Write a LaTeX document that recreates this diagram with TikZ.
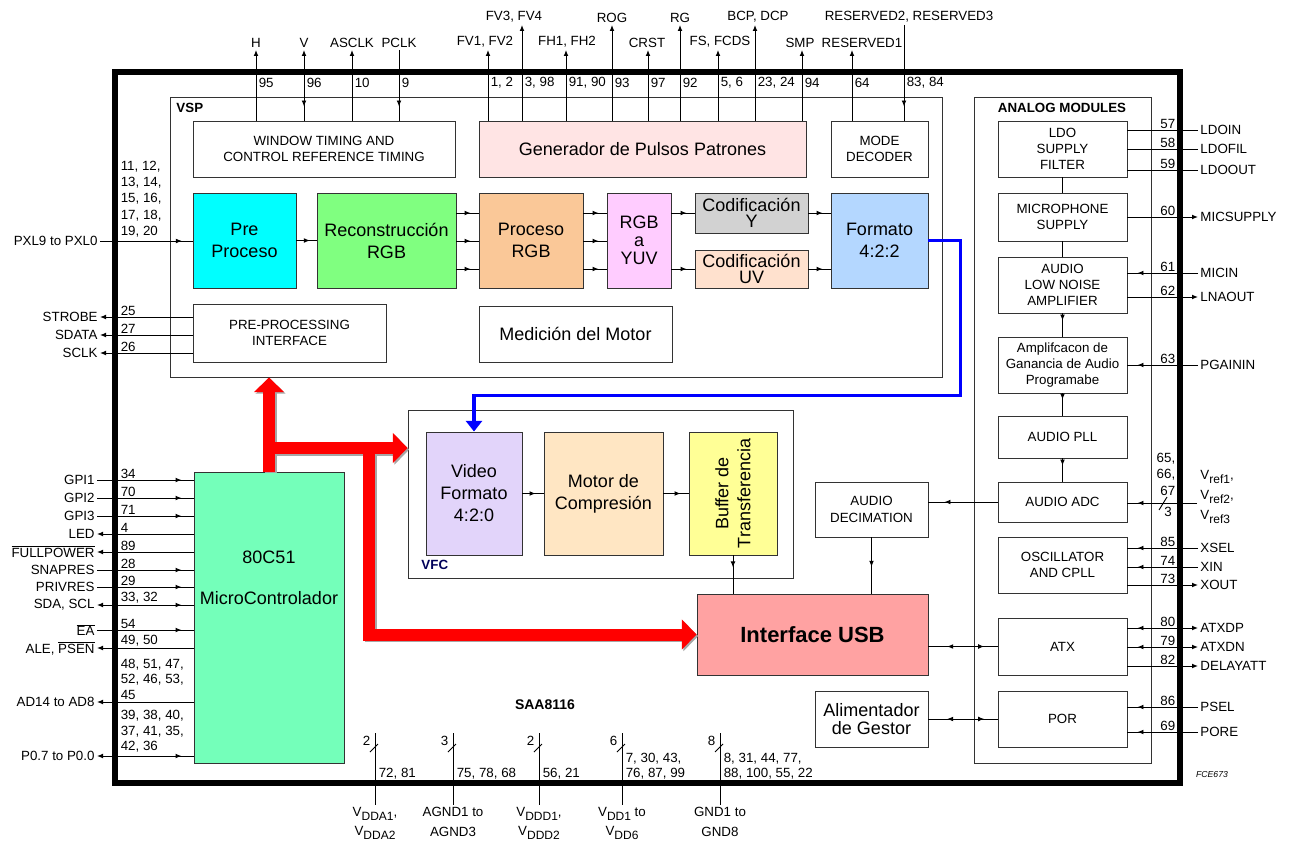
\documentclass[tikz,border=0pt]{standalone}
\usepackage{fontspec}
\setmainfont{Liberation Sans}
\usetikzlibrary{arrows.meta,positioning,decorations.markings}

\definecolor{prefill}{RGB}{0,255,255}
\definecolor{recfill}{RGB}{128,255,128}
\definecolor{prgbfill}{RGB}{250,200,152}
\definecolor{yuvfill}{RGB}{255,204,255}
\definecolor{codyfill}{RGB}{210,210,210}
\definecolor{coduvfill}{RGB}{255,225,206}
\definecolor{fmtfill}{RGB}{180,215,255}
\definecolor{genfill}{RGB}{255,228,228}
\definecolor{vidfill}{RGB}{226,212,250}
\definecolor{motfill}{RGB}{255,230,195}
\definecolor{buffill}{RGB}{255,255,150}
\definecolor{usbfill}{RGB}{255,162,162}
\definecolor{mcfill}{RGB}{116,255,186}

\newcommand{\ovl}[1]{$\overline{\mbox{#1}}$}
\newcommand{\lsub}[1]{\raisebox{-0.5ex}{\fontsize{9}{10}\selectfont #1}}

\begin{document}
\begin{tikzpicture}[x=0.75pt,y=-0.75pt,line width=0.7pt,
  >={Latex[length=4.5pt,width=3.6pt]}]
  \tikzset{
    rect/.style 2 args={minimum width=#1*0.75pt, minimum height=#2*0.75pt},
    frame/.style={draw=black!80, inner sep=0pt},
    blk/.style={draw=black!80, inner sep=0pt, align=center, font=\fontsize{10}{12.2}\selectfont},
    big/.style={blk, font=\fontsize{13.5}{16.5}\selectfont},
    pin/.style={inner sep=1.5pt, align=center, font=\fontsize{10}{12}\selectfont},
    num/.style={inner sep=1pt, align=left, font=\fontsize{10}{12}\selectfont},
    ttl/.style={inner sep=0pt, font=\bfseries\fontsize{10}{12}\selectfont},
    markat/.style={postaction={decorate, decoration={markings, mark=at position #1 with {\arrow{>}}}}},
    markback/.style={postaction={decorate, decoration={markings, mark=at position #1 with {\arrowreversed{>}}}}},
    redbus/.style={red, line width=9pt, -{Triangle[length=11pt,width=22pt]}},
    redshade/.style={black!35, line width=9pt, -{Triangle[length=11pt,width=22pt]}},
    bluebus/.style={blue, line width=2.3pt, -{Triangle[length=8pt,width=12pt]}}
  }
  \useasboundingbox (0,0) rectangle (1292,842);

  % chip outline and frames
  \draw[line width=4.5pt] (115,72) rectangle (1180,783);
  \node[frame, rect={772}{280}] (vsp) at (556,237) {};
  \node[ttl, anchor=west] (vsplbl) at (176,108) {VSP};
  \node[frame, rect={385}{168}] (vfc) at (600.5,494) {};
  \node[ttl, anchor=west, text=blue!35!black] (vfclbl) at (421,565) {VFC};
  \node[frame, rect={177}{666}] (anm) at (1062.5,430) {};
  \node[ttl, anchor=north] (anmlbl) at (1062,103) {ANALOG MODULES};
  \node[ttl, font=\bfseries\fontsize{10.5}{12}\selectfont] (chip) at (545,705) {SAA8116};
  \node[font=\itshape\fontsize{6.5}{8}\selectfont] (fce) at (1212,775) {FCE673};

  % VSP blocks
  \node[blk, rect={262}{56}] (win) at (324,149) {WINDOW TIMING AND\\CONTROL REFERENCE TIMING};
  \node[big, fill=genfill, rect={327}{56}] (gen) at (642.5,149) {Generador de Pulsos Patrones};
  \node[blk, rect={97}{56}] (mode) at (879.5,149) {MODE\\DECODER};
  \node[big, fill=prefill, rect={103}{95}] (pre) at (244.5,240.5) {Pre\\Proceso};
  \node[big, fill=recfill, rect={139}{95}] (rec) at (386.5,240.5) {Reconstrucción\\RGB};
  \node[big, fill=prgbfill, rect={104}{95}] (prgb) at (531,240.5) {Proceso\\RGB};
  \node[big, fill=yuvfill, rect={64}{95}] (yuv) at (639,240.5) {RGB\\[-3pt]a\\[-3pt]YUV};
  \node[big, fill=codyfill, rect={113}{40}] (cody) at (751.5,213) {Codificación\\[-4pt]Y};
  \node[big, fill=coduvfill, rect={113}{38}] (coduv) at (751.5,269) {Codificación\\[-4pt]UV};
  \node[big, fill=fmtfill, rect={97}{95}] (fmt) at (879.5,240.5) {Formato\\4:2:2};
  \node[blk, rect={193}{58}] (ppi) at (289.5,333) {PRE-PROCESSING\\INTERFACE};
  \node[big, rect={193}{56}] (med) at (575.5,334) {Medición del Motor};

  % VFC blocks
  \node[big, fill=vidfill, rect={96}{123}] (vid) at (474,493.5) {Video\\Formato\\4:2:0};
  \node[big, fill=motfill, rect={119}{123}] (mot) at (603.5,493.5) {Motor de\\Compresión};
  \node[big, fill=buffill, rect={88}{123}] (buf) at (733,493.5) {};
  \node[rotate=90, align=center, font=\fontsize{13.5}{16.5}\selectfont] (buftxt) at (buf.center) {Buffer de\\Transferencia};

  % lower middle blocks
  \node[blk, fill=usbfill, rect={231}{81}, font=\bfseries\fontsize{16.5}{19}\selectfont] (usb) at (812.5,634.5) {Interface USB};
  \node[blk, rect={113}{55}] (adec) at (871.5,509.5) {AUDIO\\DECIMATION};
  \node[big, rect={113}{56}] (alim) at (871.5,719) {Alimentador\\[-3pt]de Gestor};
  \node[blk, fill=mcfill, rect={150}{291}] (mc) at (269,617.5) {};
  \node[align=center, font=\fontsize{13.5}{16.5}\selectfont] (mctxt) at (269,578) {80C51\\[14pt]MicroControlador};

  % analog modules
  \node[blk, rect={129}{56}] (ldo) at (1062.5,149) {LDO\\SUPPLY\\FILTER};
  \node[blk, rect={129}{48}] (mic) at (1062.5,217) {MICROPHONE\\SUPPLY};
  \node[blk, rect={129}{56}] (lna) at (1062.5,285) {AUDIO\\LOW NOISE\\AMPLIFIER};
  \node[blk, rect={129}{56}] (pga) at (1062.5,365) {Amplifcacon de\\Ganancia de Audio\\Programabe};
  \node[blk, rect={129}{42}] (pll) at (1062.5,437) {AUDIO PLL};
  \node[blk, rect={129}{40}] (adc) at (1062.5,502) {AUDIO ADC};
  \node[blk, rect={129}{56}] (osc) at (1062.5,565) {OSCILLATOR\\AND CPLL};
  \node[blk, rect={129}{57}] (atx) at (1062.5,646.5) {ATX};
  \node[blk, rect={129}{56}] (por) at (1062.5,719) {POR};

  % internal connections
  \draw[markat=-5pt] (pre) -- (rec);
  \foreach \yy in {213,241,269} {
    \draw[markat=-6pt] (rec.east |- 0,\yy) -- (prgb.west |- 0,\yy);
    \draw[markat=-6pt] (prgb.east |- 0,\yy) -- (yuv.west |- 0,\yy);
  }
  \draw[markat=-6pt] (yuv.east |- cody.west) -- (cody.west);
  \draw[markat=-6pt] (yuv.east |- coduv.west) -- (coduv.west);
  \draw[markat=-6pt] (cody.east) -- (cody.east -| fmt.west);
  \draw[markat=-6pt] (coduv.east) -- (coduv.east -| fmt.west);
  \draw[markat=-6pt] (vid) -- (mot);
  \draw[markat=-6pt] (mot) -- (buf);
  \draw[markat=9pt] (buf.south) -- (buf.south |- usb.north);
  \draw[markat=22pt] (adec.south) -- (adec.south |- usb.north);
  \draw (ldo) -- (mic);
  \draw (mic) -- (lna);
  \draw[markat=-12pt] (lna) -- (pga);
  \draw[markat=-12pt] (pga) -- (pll);
  \draw[markat=-12pt] (pll) -- (adc);
  \draw[markat=-12pt] (adc.west) -- (adc.west -| adec.east);
  \draw[markback=14pt, markat=-10pt] (atx.west -| usb.east) -- (atx.west);
  \draw[markback=14pt, markat=-10pt] (alim.east) -- (por.west);

  % buses
  \draw[bluebus] (fmt.east) -- ++(32,0) -- ++(0,155) -| (vid.north);
  \coordinate (rbj) at (269,448);
  \coordinate (rbk) at (369,448);
  \begin{scope}[transform canvas={xshift=1.2pt,yshift=-1.2pt}]
    \draw[redshade] (mc.north) -- (mc.north |- vsp.south);
    \draw[redshade] (rbj) -- (rbj -| vfc.west);
    \draw[redshade] (rbk) |- (usb.west);
  \end{scope}
  \draw[redbus] (mc.north) -- (mc.north |- vsp.south);
  \draw[redbus] (rbj) -- (rbj -| vfc.west);
  \draw[redbus] (rbk) |- (usb.west);

  % top pins
  \foreach \px/\lx/\lbl/\nm/\ly/\bx [count=\i] in {256/256/H/95/50/win, 352/352/ASCLK/10/50/win,
      488/485/{FV1, FV2}/{1, 2}/50/gen, 522/514/{FV3, FV4}/{3, 98}/25/gen, 566/567/{FH1, FH2}/{91, 90}/50/gen,
      612/612/ROG/93/25/gen, 648/647/CRST/97/50/gen, 680/680/RG/92/25/gen, 718/720/{FS, FCDS}/{5, 6}/50/gen,
      755/758/{BCP, DCP}/{23, 24}/25/gen, 802/800/SMP/94/50/gen, 852/862/RESERVED1/64/50/mode} {
    \coordinate (tc\i) at (\px,\ly);
    \node[pin, anchor=south] (tp\i) at (\lx,\ly) {\lbl};
    \node[num, anchor=west] (tn\i) at (\px+1,83) {\nm};
    \draw[->] (tc\i |- \bx.north) -- (tc\i);
  }
  \node[pin, anchor=south] (tpv) at (304,50) {V};
  \node[num, anchor=west] (tnv) at (305,83) {96};
  \draw[<-, markat=-10.5pt] (tpv.south) -- (tpv.south |- win.north);
  \node[pin, anchor=south] (tppclk) at (399,50) {PCLK};
  \node[num, anchor=west] (tnpclk) at (400,83) {9};
  \draw[markat=-10.5pt] (tppclk.south) -- (tppclk.south |- win.north);
  \coordinate (tcres) at (904,25);
  \node[pin, anchor=south] (tpres) at (909,25) {RESERVED2, RESERVED3};
  \node[num, anchor=west] (tnres) at (905,83) {83, 84};
  \draw[markat=-10.5pt] (tcres) -- (tcres |- mode.north);

  % left pins of the VSP
  \node[pin, anchor=east] (pxl) at (100,241) {PXL9 to PXL0};
  \node[num, anchor=south west, font=\fontsize{10}{12.2}\selectfont] (pxln) at (119,239) {11, 12,\\13, 14,\\15, 16,\\17, 18,\\19, 20};
  \draw[markat=-8pt] (pxl.east) -- (pxl.east -| pre.west);
  \foreach \yy/\lbl/\nm [count=\i] in {317/STROBE/25, 335/SDATA/27, 353/SCLK/26} {
    \node[pin, anchor=east] (pp\i) at (100,\yy) {\lbl};
    \node[num, anchor=south west] (ppn\i) at (119,\yy) {\nm};
    \draw[->] (pp\i.east -| ppi.west) -- (pp\i.east);
  }

  % pins of the 80C51
  \foreach \yy/\lbl/\nm [count=\i] in {480/GPI1/34, 498/GPI2/70, 516/GPI3/71,
      570/SNAPRES/28, 587/PRIVRES/29, 630/\ovl{EA}/54} {
    \node[pin, anchor=east] (gi\i) at (97,\yy) {\lbl};
    \node[num, anchor=south west] (gin\i) at (119,\yy) {\nm};
    \draw[markat=-9pt] (gi\i.east) -- (gi\i.east -| mc.west);
  }
  \foreach \yy/\lbl/\nm [count=\i] in {534/LED/4, 552/\ovl{FULLPOWER}/89, 648/{ALE, \ovl{PSEN}}/{49, 50}} {
    \node[pin, anchor=east] (go\i) at (97,\yy) {\lbl};
    \node[num, anchor=south west] (gon\i) at (119,\yy) {\nm};
    \draw[->] (go\i.east -| mc.west) -- (go\i.east);
  }
  \node[pin, anchor=east] (sda) at (97,605) {SDA, SCL};
  \node[num, anchor=south west] (sdan) at (119,605) {33, 32};
  \draw[<-, markat=-9pt] (sda.east) -- (sda.east -| mc.west);
  \node[pin, anchor=east] (ad) at (97,702) {AD14 to AD8};
  \node[num, anchor=south west, font=\fontsize{10}{11.6}\selectfont] (adn) at (119,701) {48, 51, 47,\\52, 46, 53,\\45};
  \draw[->] (ad.east -| mc.west) -- (ad.east);
  \node[pin, anchor=east] (pz) at (97,756) {P0.7 to P0.0};
  \node[num, anchor=south west, font=\fontsize{10}{11.6}\selectfont] (pzn) at (119,754) {39, 38, 40,\\37, 41, 35,\\42, 36};
  \draw[<-, markat=-9pt] (pz.east) -- (pz.east -| mc.west);

  % right pins
  \foreach \yy/\lbl/\nm [count=\i] in {130/LDOIN/57, 149/LDOFIL/58, 170/LDOOUT/59} {
    \node[pin, anchor=west] (ld\i) at (1198,\yy) {\lbl};
    \node[num, anchor=south east] (ldn\i) at (1177,\yy) {\nm};
    \draw (ld\i.west -| ldo.east) -- (ld\i.west);
  }
  \foreach \yy/\lbl/\nm/\bx [count=\i] in {217/MICSUPPLY/60/mic, 297/LNAOUT/62/lna,
      585/XOUT/73/osc, 666/DELAYATT/82/atx} {
    \node[pin, anchor=west] (ro\i) at (1198,\yy) {\lbl};
    \node[num, anchor=south east] (ron\i) at (1177,\yy) {\nm};
    \draw[->] (ro\i.west -| \bx.east) -- (ro\i.west);
  }
  \foreach \yy/\lbl/\nm/\bx [count=\i] in {273/MICIN/61/lna, 365/PGAININ/63/pga,
      548/XSEL/85/osc, 567/XIN/74/osc, 707/PSEL/86/por, 732/PORE/69/por} {
    \node[pin, anchor=west] (ri\i) at (1198,\yy) {\lbl};
    \node[num, anchor=south east] (rin\i) at (1177,\yy) {\nm};
    \draw[markat=-7.5pt] (ri\i.west) -- (ri\i.west -| \bx.east);
  }
  \foreach \yy/\lbl/\nm [count=\i] in {628/ATXDP/80, 647/ATXDN/79} {
    \node[pin, anchor=west] (rb\i) at (1198,\yy) {\lbl};
    \node[num, anchor=south east] (rbn\i) at (1177,\yy) {\nm};
    \draw[<-, markat=-7.5pt] (rb\i.west) -- (rb\i.west -| atx.east);
  }
  \node[pin, anchor=west, align=left, font=\fontsize{10}{15}\selectfont] (vref) at (1198,497)
    {V\lsub{ref1},\\V\lsub{ref2},\\V\lsub{ref3}};
  \coordinate (vrefin) at (1197,503);
  \draw[markat=-7.5pt] (vrefin) -- (vrefin -| adc.east);
  \node[num, anchor=south east, align=right, font=\fontsize{10}{12.4}\selectfont] (vrefn) at (1177,497) {65,\\66,\\67};
  \draw (1159,510) -- (1167,497);
  \node[num, anchor=north] (vrefc) at (1168,505) {3};

  % bottom pins
  \foreach \px/\lbl/\nm/\cnt [count=\i] in {
      375/{V\lsub{DDA1},\\V\lsub{DDA2}}/{72, 81}/2,
      453/{AGND1 to\\AGND3}/{75, 78, 68}/3,
      539/{V\lsub{DDD1},\\V\lsub{DDD2}}/{56, 21}/2,
      622/{V\lsub{DD1} to\\V\lsub{DD6}}/{7, 30, 43,\\76, 87, 99}/6,
      720/{GND1 to\\GND8}/{8, 31, 44, 77,\\88, 100, 55, 22}/8} {
    \node[pin, anchor=north, font=\fontsize{10}{14.5}\selectfont] (bp\i) at (\px,805) {\lbl};
    \coordinate (bt\i) at (\px,733);
    \draw (bt\i) -- (bp\i.north);
    \draw (\px-5,752) -- (\px+3,744);
    \node[num, anchor=east] (bc\i) at (\px-3,741) {\cnt};
    \node[num, anchor=south west, font=\fontsize{10}{11.3}\selectfont] (bn\i) at (\px+2,781) {\nm};
  }
\end{tikzpicture}
\end{document}
